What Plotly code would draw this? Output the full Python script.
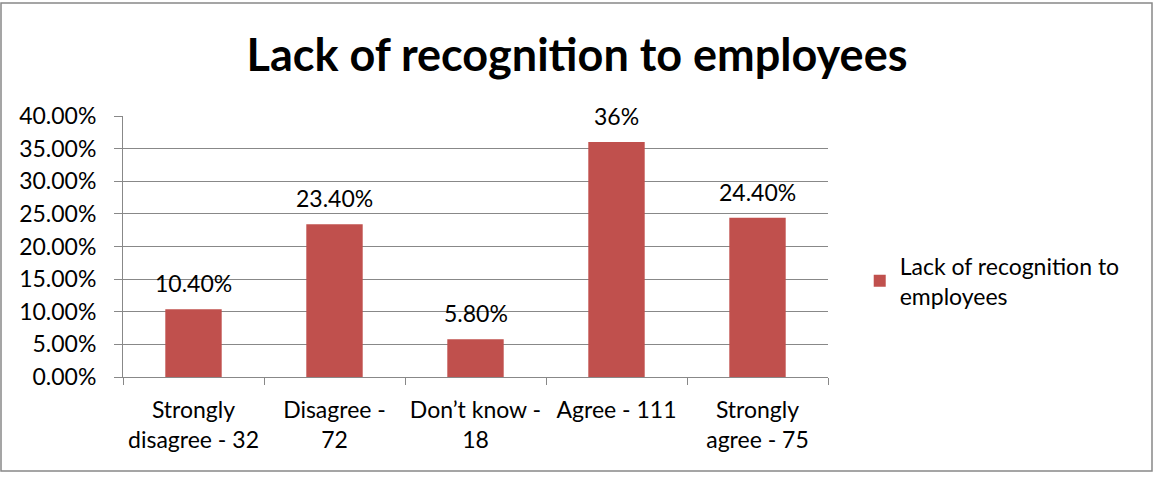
import plotly.graph_objects as go

categories = ["Strongly<br>disagree - 32", "Disagree -<br>72", "Don’t know -<br>18", "Agree - 111", "Strongly<br>agree - 75"]
values = [10.4, 23.4, 5.8, 36.0, 24.4]
labels = ["10.40%", "23.40%", "5.80%", "36%", "24.40%"]
tick_vals = [0, 5, 10, 15, 20, 25, 30, 35, 40]
tick_text = ["0.00%", "5.00%", "10.00%", "15.00%", "20.00%", "25.00%", "30.00%", "35.00%", "40.00%"]
series_name = "Lack of recognition to<br>employees"
title = "Lack of recognition to employees"

FONT = "Lato, Carlito, Calibri, sans-serif"
FS = 23

fig = go.Figure()
fig.add_trace(go.Bar(
    x=categories, y=values, name=series_name,
    marker=dict(color="#C0504D", line=dict(width=0)),
    showlegend=True,
))

for c, v, t in zip(categories, values, labels):
    fig.add_annotation(x=c, y=v, text=t, showarrow=False, xref="x", yref="y",
                       yanchor="middle", yshift=26,
                       font=dict(family=FONT, size=FS, color="#000000"))

fig.update_layout(
    width=1154, height=477,
    margin=dict(l=123, r=326, t=116, b=100),
    paper_bgcolor="white", plot_bgcolor="white",
    bargap=0.6,
    title=dict(text="<b>" + title + "</b>", x=0.5, xanchor="center", xref="container",
               y=1 - 55/477, yref="container", yanchor="middle",
               font=dict(family=FONT, size=45, color="#000000")),
    font=dict(family=FONT, size=FS, color="#000000"),
    legend=dict(x=1.045, y=0.368, xanchor="left", yanchor="middle",
                font=dict(family=FONT, size=FS, color="#000000"),
                itemwidth=30, bgcolor="rgba(0,0,0,0)"),
    xaxis=dict(type="category", showline=True, linecolor="#888888", linewidth=1,
               ticks="outside", tickson="boundaries", ticklen=7, tickcolor="#888888",
               showgrid=False, tickfont=dict(family=FONT, size=FS), ticklabelstandoff=12),
    yaxis=dict(range=[0, 40], tickvals=tick_vals, ticktext=tick_text,
               showline=True, linecolor="#888888", linewidth=1,
               ticks="outside", ticklen=8, tickcolor="#888888",
               showgrid=True, gridcolor="#888888", gridwidth=1,
               zeroline=False, tickfont=dict(family=FONT, size=FS), ticklabelstandoff=13),
    shapes=[dict(type="rect", xref="paper", yref="paper",
                 x0=(1 - 123) / 705, x1=(1152 - 123) / 705,
                 y0=(377 - 471) / 261, y1=(377 - 3) / 261,
                 line=dict(color="#888888", width=1.5), fillcolor="rgba(0,0,0,0)", layer="below")],
)

fig.write_html("out.html")
